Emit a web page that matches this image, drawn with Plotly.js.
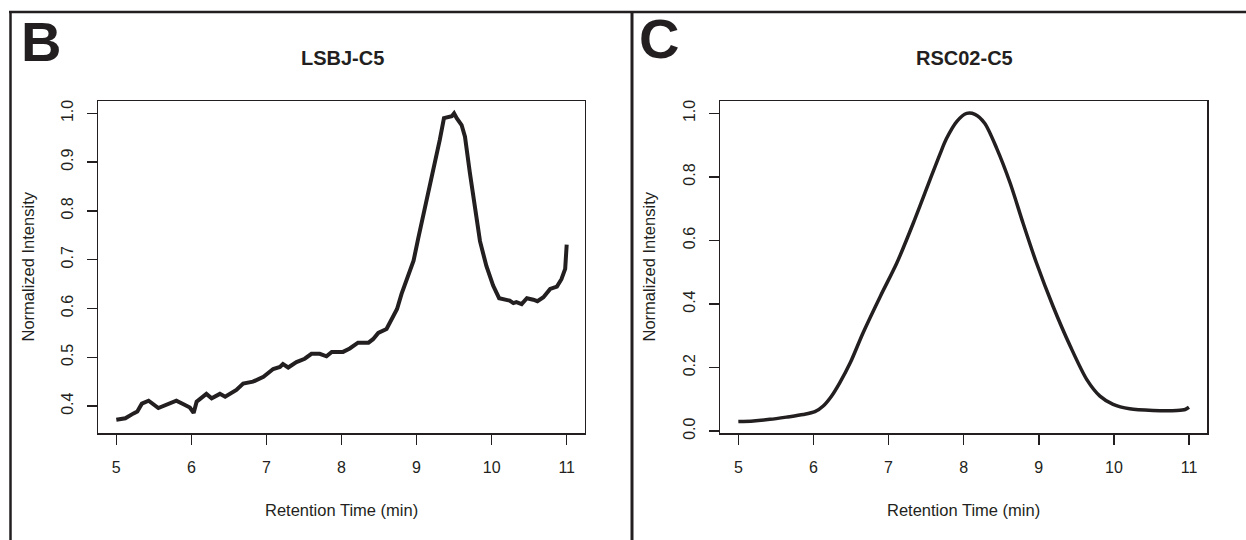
<!DOCTYPE html>
<html>
<head>
<meta charset="utf-8">
<script src="https://cdn.plot.ly/plotly-3.0.1.min.js"></script>
<style>html,body{margin:0;padding:0;background:#fff;}#chart{width:1246px;height:540px;}</style>
</head>
<body>
<div id="chart"></div>
<script>
// Panel B: LSBJ-C5
const timeB = [5.0, 5.12, 5.23, 5.28, 5.34, 5.43, 5.56, 5.67, 5.80, 5.915, 5.98, 6.03, 6.07, 6.20, 6.27, 6.38, 6.45, 6.60, 6.69, 6.82, 6.96, 7.09, 7.18, 7.22, 7.29, 7.40, 7.51, 7.60, 7.71, 7.80, 7.87, 8.02, 8.11, 8.22, 8.36, 8.42, 8.49, 8.60, 8.65, 8.74, 8.80, 8.89, 8.96, 9.02, 9.11, 9.22, 9.31, 9.365, 9.42, 9.47, 9.50, 9.535, 9.60, 9.645, 9.71, 9.78, 9.845, 9.93, 10.02, 10.10, 10.18, 10.24, 10.29, 10.33, 10.40, 10.47, 10.555, 10.61, 10.69, 10.78, 10.87, 10.93, 10.98, 11.0];
const intensityB = [0.372, 0.375, 0.385, 0.389, 0.405, 0.411, 0.396, 0.402, 0.411, 0.402, 0.397, 0.386, 0.409, 0.425, 0.416, 0.425, 0.419, 0.433, 0.446, 0.450, 0.460, 0.476, 0.480, 0.486, 0.479, 0.490, 0.497, 0.507, 0.507, 0.502, 0.511, 0.511, 0.518, 0.530, 0.530, 0.537, 0.550, 0.558, 0.572, 0.599, 0.630, 0.667, 0.698, 0.742, 0.803, 0.878, 0.946, 0.990, 0.993, 0.994, 1.0, 0.990, 0.976, 0.952, 0.878, 0.803, 0.738, 0.687, 0.647, 0.621, 0.619, 0.616, 0.611, 0.613, 0.609, 0.621, 0.618, 0.615, 0.623, 0.640, 0.645, 0.660, 0.681, 0.731];

// Panel C: RSC02-C5
const timeC = [5.0, 5.2, 5.42, 5.64, 5.865, 6.02, 6.13, 6.24, 6.35, 6.49, 6.66, 6.89, 7.11, 7.33, 7.55, 7.685, 7.77, 7.91, 8.04, 8.15, 8.28, 8.44, 8.62, 8.79, 8.97, 9.19, 9.42, 9.64, 9.815, 9.99, 10.21, 10.52, 10.84, 10.95, 11.0];
const intensityC = [0.030, 0.032, 0.037, 0.044, 0.052, 0.061, 0.079, 0.110, 0.152, 0.215, 0.309, 0.424, 0.529, 0.655, 0.790, 0.872, 0.920, 0.975, 1.0, 0.997, 0.969, 0.890, 0.780, 0.655, 0.529, 0.393, 0.267, 0.162, 0.110, 0.084, 0.070, 0.065, 0.065, 0.068, 0.075];

const xTicks = [5, 6, 7, 8, 9, 10, 11];
const yTicksB = [0.4, 0.5, 0.6, 0.7, 0.8, 0.9, 1.0];
const yTicksC = [0.0, 0.2, 0.4, 0.6, 0.8, 1.0];
const titleB = 'LSBJ-C5';
const titleC = 'RSC02-C5';
const xLabel = 'Retention Time (min)';
const yLabel = 'Normalized Intensity';

const W = 1246, H = 540;
const INK = '#231f20';
const FONT = 'Liberation Sans, Arial, Helvetica, sans-serif';
const px = v => v / W;
const py = v => 1 - v / H;

const traces = [
  {x: timeB, y: intensityB, type: 'scatter', mode: 'lines', xaxis: 'x', yaxis: 'y',
   line: {color: INK, width: 4, shape: 'linear'}, hoverinfo: 'skip'},
  {x: timeC, y: intensityC, type: 'scatter', mode: 'lines', xaxis: 'x2', yaxis: 'y2',
   line: {color: INK, width: 3.5, shape: 'spline', smoothing: 0.8}, hoverinfo: 'skip'}
];

function xAxis(domain, anchor) {
  return {
    domain: domain, anchor: anchor, range: [4.76, 11.24],
    tickmode: 'array', tickvals: xTicks, ticktext: xTicks.map(String),
    ticks: 'outside', ticklen: 10, tickwidth: 1.5, tickcolor: INK,
    showline: true, mirror: true, linecolor: INK, linewidth: 1.5,
    showgrid: false, zeroline: false,
    tickfont: {family: FONT, size: 16, color: INK},
    ticklabelstandoff: 9
  };
}
function yAxis(range, ticks, anchor) {
  return {
    domain: [py(433), py(101)], anchor: anchor, range: range,
    tickmode: 'array', tickvals: ticks, ticktext: ticks.map(v => v.toFixed(1)),
    ticks: 'outside', ticklen: 10, tickwidth: 1.5, tickcolor: INK,
    showline: true, mirror: true, linecolor: INK, linewidth: 1.5,
    showgrid: false, zeroline: false, tickangle: -90,
    tickfont: {family: FONT, size: 16, color: INK},
    ticklabelstandoff: 7
  };
}

const layout = {
  width: W, height: H,
  margin: {l: 0, r: 0, t: 0, b: 0},
  paper_bgcolor: '#ffffff', plot_bgcolor: '#ffffff',
  showlegend: false,
  xaxis: xAxis([px(98.3), px(584.7)], 'y'),
  yaxis: yAxis([0.3448, 1.0252], yTicksB, 'x'),
  xaxis2: xAxis([px(720.3), px(1207)], 'y2'),
  yaxis2: yAxis([-0.006, 1.039], yTicksC, 'x2'),
  shapes: [
    {type: 'line', xref: 'paper', yref: 'paper', x0: px(9), x1: 1, y0: py(12), y1: py(12), line: {color: INK, width: 2.5}},
    {type: 'line', xref: 'paper', yref: 'paper', x0: px(10.5), x1: px(10.5), y0: py(11), y1: 0, line: {color: INK, width: 2.5}},
    {type: 'line', xref: 'paper', yref: 'paper', x0: px(632), x1: px(632), y0: py(11), y1: 0, line: {color: INK, width: 3}}
  ],
  annotations: [
    {text: '<b>B</b>', xref: 'paper', yref: 'paper', x: px(19), y: py(41), xanchor: 'left', yanchor: 'middle', showarrow: false,
     font: {family: FONT, size: 56, color: INK}},
    {text: '<b>C</b>', xref: 'paper', yref: 'paper', x: px(637), y: py(39), xanchor: 'left', yanchor: 'middle', showarrow: false,
     font: {family: FONT, size: 56, color: INK}},
    {text: '<b>' + titleB + '</b>', xref: 'paper', yref: 'paper', x: px(342), y: py(58), xanchor: 'center', yanchor: 'middle', showarrow: false,
     font: {family: FONT, size: 20, color: INK}},
    {text: '<b>' + titleC + '</b>', xref: 'paper', yref: 'paper', x: px(964), y: py(58), xanchor: 'center', yanchor: 'middle', showarrow: false,
     font: {family: FONT, size: 20, color: INK}},
    {text: xLabel, xref: 'paper', yref: 'paper', x: px(341.5), y: py(510), xanchor: 'center', yanchor: 'middle', showarrow: false,
     font: {family: FONT, size: 16.5, color: INK}},
    {text: xLabel, xref: 'paper', yref: 'paper', x: px(963.6), y: py(510), xanchor: 'center', yanchor: 'middle', showarrow: false,
     font: {family: FONT, size: 16.5, color: INK}},
    {text: yLabel, xref: 'paper', yref: 'paper', x: px(27.5), y: py(267), xanchor: 'center', yanchor: 'middle', showarrow: false, textangle: -90,
     font: {family: FONT, size: 16.5, color: INK}},
    {text: yLabel, xref: 'paper', yref: 'paper', x: px(648.5), y: py(267), xanchor: 'center', yanchor: 'middle', showarrow: false, textangle: -90,
     font: {family: FONT, size: 16.5, color: INK}}
  ]
};

Plotly.newPlot('chart', traces, layout, {displayModeBar: false, staticPlot: true});
</script>
</body>
</html>
